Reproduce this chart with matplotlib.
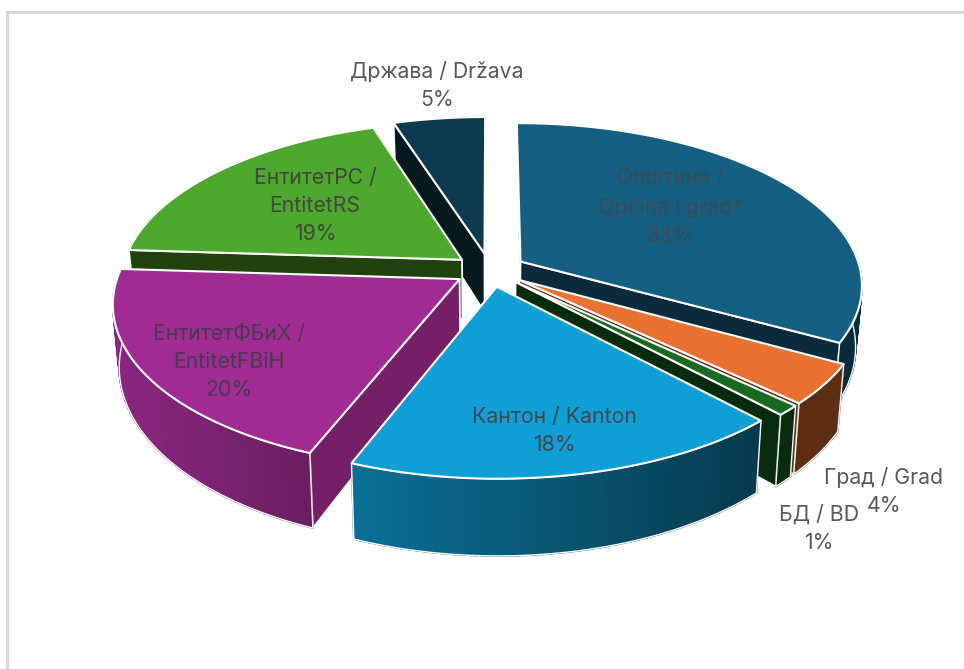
import numpy as np
import matplotlib
matplotlib.use("Agg")
import matplotlib.pyplot as plt
from matplotlib.colors import to_rgb
from matplotlib.patches import Polygon

# slices clockwise from 12 o'clock
names = ["Општина /\nOpćina i grad*", "Град / Grad", "БД / BD", "Кантон / Kanton",
         "ЕнтитетФБиХ /\nEntitetFBiH", "ЕнтитетРС /\nEntitetRS", "Држава / Država"]
shares = [33, 4, 1, 18, 20, 19, 5]

top_colors = ["#156082", "#E97132", "#196B24", "#0F9ED5", "#A02B93", "#4EA72E", "#0D3A4E"]
cut_colors = ["#0B2A3B", "#5E2D13", "#0A2C0E", "#063A4E", "#751F69", "#21410F", "#05191F"]
wall_left = ["#0A2B3C", "#5E2D13", "#0A2C0E", "#0B7096", "#8C2682", "#21410F", "#05191F"]
wall_right = ["#0A2B3C", "#5E2D13", "#0A2C0E", "#063A4E", "#6A1F60", "#21410F", "#05191F"]
label_xy = [(670, 207), (884, 491), (819, 529), (554, 431), (229, 362), (315, 206), (437, 85)]
label_color = ["#3E4A55", "#595959", "#595959", "#3F4A52", "#4A3A50", "#3F4A38", "#595959"]
draw_order = [0, 6, 5, 4, 1, 2, 3]

CX, CY = 490, 270
RX, RY = 340, 160
PERSP = 0.14
EXPLODE = 0.105
DEPTH = 60
BOTTOM_SHRINK = 0.983


def project(x, y, z=0.0):
    f = 1.0 / (1.0 + PERSP * y)
    u = x * RX * f * (1 - (1 - BOTTOM_SHRINK) * z)
    v = -y * RY * f + z * DEPTH * f ** 1.5
    return CX + u, CY + v


def main():
    plt.rcParams["font.family"] = ["Inter", "DejaVu Sans"]
    fig = plt.figure(figsize=(9.64, 6.69), dpi=100)
    ax = fig.add_axes([0, 0, 1, 1])
    ax.set_xlim(0, 964)
    ax.set_ylim(669, 0)
    ax.axis("off")

    # frame of the pasted chart, open on the right and at the bottom
    ax.plot([7, 7, 964], [669, 12, 12], color="#D9D9D9", lw=2.2, solid_joinstyle="miter")

    edges = np.cumsum([0] + shares) / sum(shares) * 2 * np.pi
    for i in draw_order:
        start, end = edges[i], edges[i + 1]
        mid = (start + end) / 2
        ox, oy = EXPLODE * np.sin(mid), EXPLODE * np.cos(mid)
        angles = np.linspace(start, end, max(int(shares[i] * 3), 8))
        xs, ys = ox + np.sin(angles), oy + np.cos(angles)

        # cut faces, only the ones turned to the viewer
        visible = []
        if np.sin(start) < 1e-9:
            visible.append(start)
        if np.sin(end) > 1e-9:
            visible.append(end)
        for a in visible:
            ts = np.array([0.0, 1.0])
            px, py = ox + ts * np.sin(a), oy + ts * np.cos(a)
            t0 = project(px, py, 0)
            t1 = project(px, py, 1)
            pts = np.column_stack([np.r_[t0[0], t1[0][::-1]], np.r_[t0[1], t1[1][::-1]]])
            ax.add_patch(Polygon(pts, closed=True, fc=cut_colors[i], ec="white", lw=1.3, joinstyle="round"))

        # outer wall, front part only, split up for the gradient
        front = np.cos(angles) < 0.05
        if front.sum() > 1:
            u0, v0 = project(xs[front], ys[front], 0)
            u1, v1 = project(xs[front], ys[front], 1)
            left, right = np.array(to_rgb(wall_left[i])), np.array(to_rgb(wall_right[i]))
            span = max(u0.max() - u0.min(), 1)
            for k in range(len(u0) - 1):
                t = ((u0[k] + u0[k + 1]) / 2 - u0.min()) / span
                c = left + (right - left) * t
                quad = [(u0[k], v0[k]), (u0[k + 1], v0[k + 1]), (u1[k + 1], v1[k + 1]), (u1[k], v1[k])]
                ax.add_patch(Polygon(quad, closed=True, fc=c, ec=c, lw=1.2))
            wall = np.column_stack([np.r_[u0, u1[::-1]], np.r_[v0, v1[::-1]]])
            ax.add_patch(Polygon(wall, closed=True, fc="none", ec="white", lw=1.0))

        # top face
        tx, ty = project(np.r_[ox, xs], np.r_[oy, ys], 0)
        ax.add_patch(Polygon(np.column_stack([tx, ty]), closed=True, fc=top_colors[i], ec="white", lw=1.5,
                             joinstyle="round"))

    for i, name in enumerate(names):
        x, y = label_xy[i]
        ax.text(x, y, f"{name}\n{shares[i]}%", ha="center", va="center", fontsize=15.3,
                color=label_color[i], linespacing=1.5)

    fig.savefig("out.png", dpi=100)
    plt.close(fig)


if __name__ == "__main__":
    main()
